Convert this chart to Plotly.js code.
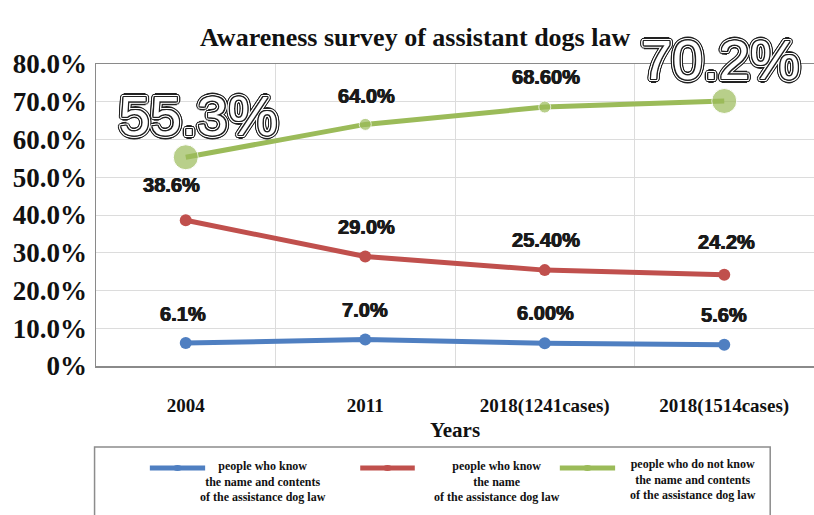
<!DOCTYPE html>
<html>
<head>
<meta charset="utf-8">
<script src="https://cdn.plot.ly/plotly-3.0.1.min.js"></script>
<style>html,body{margin:0;padding:0;background:#fff;}#chart{width:814px;height:515px;}</style>
</head>
<body>
<div id="chart"></div>
<script>
// ---- data ----
const categories = ['2004', '2011', '2018(1241cases)', '2018(1514cases)'];
const knowNameAndContents = [6.1, 7.0, 6.0, 5.6];
const knowName = [38.6, 29.0, 25.4, 24.2];
const doNotKnow = [55.3, 64.0, 68.6, 70.2];
const labelsKnowNameAndContents = ['6.1%', '7.0%', '6.00%', '5.6%'];
const labelsKnowName = ['38.6%', '29.0%', '25.40%', '24.2%'];
const labelsDoNotKnow = ['55.3%', '64.0%', '68.60%', '70.2%'];
const seriesNames = [
  'people who know<br>the name and contents<br>of the assistance dog law',
  'people who know<br>the name<br>of the assistance dog law',
  'people who do not know<br>the name and contents<br>of the assistance dog law'
];
const yTickVals = [0, 10, 20, 30, 40, 50, 60, 70, 80];
const yTickText = ['0%', '10.0%', '20.0%', '30.0%', '40.0%', '50.0%', '60.0%', '70.0%', '80.0%'];
const chartTitle = 'Awareness survey of assistant dogs law';
const xTitle = 'Years';

// ---- styles ----
const BLUE = '#4f7fc1', RED = '#c0504d', GREEN = '#9bbb59';
const serif = 'Liberation Serif, Times New Roman, serif';
const sans = 'Liberation Sans, Arial, sans-serif';

const traces = [
  {x: categories, y: knowNameAndContents, name: seriesNames[0], type: 'scatter', mode: 'lines+markers',
   line: {color: BLUE, width: 5}, marker: {color: BLUE, size: 12}},
  {x: categories, y: knowName, name: seriesNames[1], type: 'scatter', mode: 'lines+markers',
   line: {color: RED, width: 5}, marker: {color: RED, size: 12}},
  {x: categories, y: doNotKnow, name: seriesNames[2], type: 'scatter', mode: 'lines+markers',
   line: {color: GREEN, width: 5}, marker: {color: GREEN, size: [25, 12, 12, 25]}}
];

const annotations = [];
const D = '#1a1a1a';
const smallFont = {family: sans, size: 20, color: D, weight: 'bold',
  shadow: '0.6px 0 0 ' + D + ', -0.4px 0 0 ' + D + ', 0 0 3px #fff'};
// categorical axis: annotations are placed by category index
function addLabels(vals, labels, shifts, fonts) {
  vals.forEach((v, i) => {
    annotations.push({x: i, y: v, xref: 'x', yref: 'y', text: labels[i], showarrow: false,
      xshift: shifts[i][0], yshift: shifts[i][1], font: fonts ? fonts[i] : smallFont});
  });
}
addLabels(knowNameAndContents, labelsKnowNameAndContents, [[-3, 29], [0, 30], [1, 30], [0, 30]]);
addLabels(knowName, labelsKnowName, [[-14, 35], [1, 30], [1, 30], [2, 33]]);
// double outline: inner dark ring, white gap, outer dark ring
function ring(r, color, n) {
  const out = [];
  for (let k = 0; k < n; k++) {
    const a = 2 * Math.PI * k / n;
    out.push((r * Math.cos(a)).toFixed(2) + 'px ' + (r * Math.sin(a)).toFixed(2) + 'px 0 ' + color);
  }
  return out;
}
const bigShadow = [].concat(ring(1.2, '#222', 12), ring(2.4, '#fff', 16), ring(3.6, '#222', 20)).join(', ');
const bigFont = {family: sans, size: 56, color: '#ffffff', shadow: bigShadow};
addLabels(doNotKnow, labelsDoNotKnow, [[13, 42], [1, 28], [1, 30], [-4, 42]], [bigFont, smallFont, smallFont, bigFont]);

// custom legend (box, line samples, centred multi-line text)
const shapes = [
  {type: 'rect', xref: 'paper', yref: 'paper', x0: -0.002, x1: 0.939, y0: -0.268, y1: -0.55,
   line: {color: '#8c8c8c', width: 1.5}, fillcolor: 'rgba(0,0,0,0)', layer: 'above'}
];
const legendItems = [
  {color: BLUE, x0: 0.075, x1: 0.152, tx: 0.232, ty: -0.384},
  {color: RED, x0: 0.368, x1: 0.444, tx: 0.558, ty: -0.384},
  {color: GREEN, x0: 0.646, x1: 0.723, tx: 0.831, ty: -0.377}
];
legendItems.forEach((it, k) => {
  shapes.push({type: 'line', xref: 'paper', yref: 'paper', x0: it.x0, x1: it.x1, y0: -0.338, y1: -0.338,
    line: {color: it.color, width: 5}});
  const cx = (it.x0 + it.x1) / 2;
  shapes.push({type: 'circle', xref: 'paper', yref: 'paper', x0: cx - 0.006, x1: cx + 0.006, y0: -0.328, y1: -0.348,
    fillcolor: it.color, line: {color: it.color, width: 0}});
  annotations.push({xref: 'paper', yref: 'paper', x: it.tx, y: it.ty, text: seriesNames[k], showarrow: false,
    align: 'center', xanchor: 'center', yanchor: 'middle',
    font: {family: serif, size: 12, color: '#111', weight: 'bold'}});
});

const layout = {
  width: 814, height: 515,
  margin: {l: 96, r: 0, t: 64, b: 149},
  paper_bgcolor: '#ffffff', plot_bgcolor: '#ffffff',
  showlegend: false,
  title: {text: chartTitle, x: 0.51, xanchor: 'center', y: 0.928, yanchor: 'middle',
    font: {family: serif, size: 26, color: '#111', weight: 'bold'}},
  xaxis: {type: 'category', range: [-0.5, 3.5], tickson: 'boundaries', showgrid: true, gridcolor: '#dcdcdc', gridwidth: 1,
    showline: true, linecolor: '#8a8a8a', linewidth: 1.5, mirror: true, ticks: '', ticklabelstandoff: 22,
    tickfont: {family: serif, size: 19, color: '#111', weight: 'bold'},
    title: {text: xTitle, standoff: 6, font: {family: serif, size: 21, color: '#111', weight: 'bold'}}},
  yaxis: {range: [0, 80], tickvals: yTickVals, ticktext: yTickText, showgrid: true, gridcolor: '#dcdcdc', gridwidth: 1,
    showline: true, linecolor: '#8a8a8a', linewidth: 1.5, zeroline: false, ticks: '', ticklabelstandoff: 2,
    tickfont: {family: serif, size: 27, color: '#111', weight: 'bold'}},
  annotations: annotations,
  shapes: shapes
};

Plotly.newPlot('chart', traces, layout, {displayModeBar: false, staticPlot: true});
</script>
</body>
</html>
